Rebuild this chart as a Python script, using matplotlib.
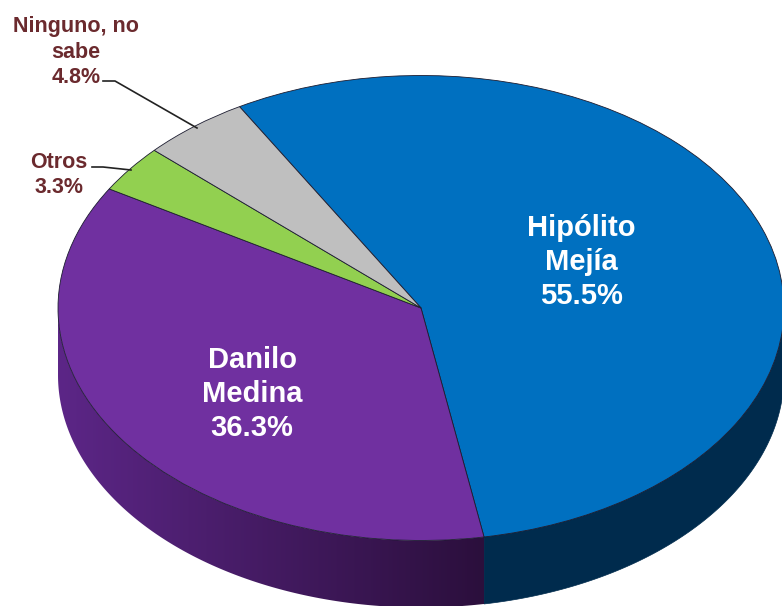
import numpy as np
import matplotlib
matplotlib.use('Agg')
import matplotlib.pyplot as plt
from matplotlib.colors import to_rgb
from matplotlib.patches import Polygon

# values of the pie, clockwise from the top
names = ['Hipólito\nMejía', 'Danilo\nMedina', 'Otros', 'Ninguno, no\nsabe']
values = [55.5, 36.3, 3.3, 4.8]
colors = ['#0070c0', '#7030a0', '#92d050', '#bfbfbf']

plt.rcParams['font.family'] = ['Liberation Sans', 'DejaVu Sans']

W, H = 782, 606
CX, CY, RX, RY = 421, 308, 363, 232.5
DEPTH = 67 / RY
START = 120


def px(x, y):
    # picture pixels to data units, pie radius is 1
    return (x - CX) / RX, (CY - y) / RY


def side(a, b):
    # outline of the side of the cake between two angles
    t = np.radians(np.linspace(a, b, 150))
    top = np.column_stack([np.cos(t), np.sin(t)])
    bottom = top[::-1] - [0, DEPTH]
    return np.vstack([top, bottom])


fig = plt.figure(figsize=(W / 100, H / 100), dpi=100)
ax = fig.add_axes([0, 0, 1, 1])

# side of the cake, only the front part can be seen
total = sum(values)
sweep = np.array(values) / total * 360
ends = START - np.cumsum(sweep)
seam = 360 + ends[0]

dark_blue = '#002b4d'
purple_left = np.array(to_rgb('#5c2687'))
purple_right = np.array(to_rgb('#2b0f3c'))

ax.add_patch(Polygon(side(ends[0], 0), color=dark_blue, lw=0.5, zorder=1))

# purple side gets darker to the right, one gradient clipped to the side shape
seam_x = np.cos(np.radians(seam))
f = np.linspace(0, 1, 256)[:, None]
grad = (purple_left + (purple_right - purple_left) * f)[None, :, :]
outline = Polygon(side(180, seam), facecolor='none', edgecolor='none', transform=ax.transData)
ax.add_patch(outline)
img = ax.imshow(grad, extent=(-1, seam_x, -1 - DEPTH, 0.1), aspect='auto', zorder=1)
img.set_clip_path(outline)

wedges, _ = ax.pie(values, colors=colors, startangle=START, counterclock=False, radius=1,
                   normalize=True, wedgeprops={'edgecolor': '#1c1c30', 'linewidth': 0.6})
for w in wedges:
    w.set_zorder(2)

ax.set_aspect('auto')
ax.set_xlim(px(0, 0)[0], px(W, 0)[0])
ax.set_ylim(px(0, H)[1], px(0, 0)[1])
ax.axis('off')

# labels
white = dict(color='white', fontsize=21, fontweight='bold', ha='center', va='center',
             linespacing=1.27, zorder=5)
ax.text(*px(581, 262), f'{names[0]}\n{values[0]}%', **white)
ax.text(*px(252, 394), f'{names[1]}\n{values[1]}%', **white)

brown = dict(color='#6b2a2e', fontsize=15.5, fontweight='bold', ha='center', va='center',
             linespacing=1.3, zorder=5)
ax.text(*px(59, 175), f'{names[2]}\n{values[2]}%', **brown)
ax.text(*px(76, 52), f'{names[3]}\n{values[3]}%', **brown)

# leader lines
for pts in ([(103, 81), (115, 81), (197, 128)], [(92, 167), (103, 167), (131, 170)]):
    xy = [px(*p) for p in pts]
    ax.plot([p[0] for p in xy], [p[1] for p in xy], color='#222222', lw=1.2, zorder=3)

fig.savefig('out.png', dpi=100, facecolor='white')
